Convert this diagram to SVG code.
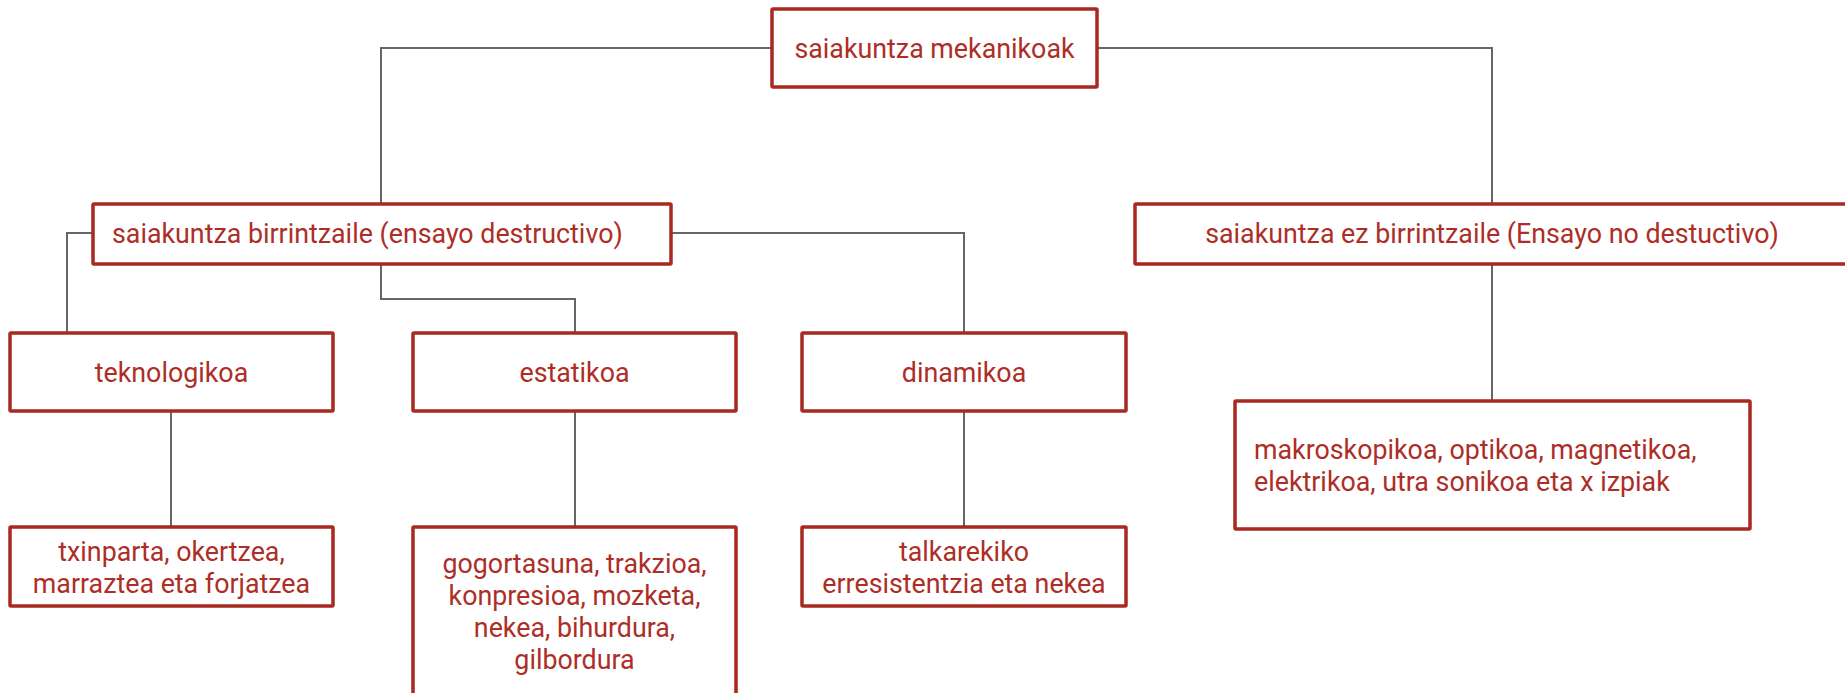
<svg xmlns="http://www.w3.org/2000/svg" width="1845" height="693" viewBox="0 0 1845 693">
<style>
.box{fill:#fff;stroke:#A8291F;stroke-width:3.5;}
.t{font-family:Roboto,"Liberation Sans",sans-serif;font-size:26.8px;fill:#AD2E26;}
.c{text-anchor:middle;}
.conn{fill:none;stroke:#666;stroke-width:2;}
</style>
<rect width="1845" height="693" fill="#fff"/>
<g id="connectors">
<path class="conn" d="M772 48 H381 V204"/>
<path class="conn" d="M1097 48 H1492 V204"/>
<path class="conn" d="M93 233 H67 V333"/>
<path class="conn" d="M381 264 V299 H575 V333"/>
<path class="conn" d="M671 233 H964 V333"/>
<path class="conn" d="M171 411 V527"/>
<path class="conn" d="M575 411 V527"/>
<path class="conn" d="M964 411 V527"/>
<path class="conn" d="M1492 264 V401"/>
</g>
<g id="n-root">
<rect class="box" x="772" y="9" width="325" height="78" rx="1"/>
<text class="t c" x="934.5" y="58">saiakuntza mekanikoak</text>
</g>
<g id="n-destructivo">
<rect class="box" x="93" y="204" width="578" height="60" rx="1"/>
<text class="t" x="112" y="243">saiakuntza birrintzaile (ensayo destructivo)</text>
</g>
<g id="n-nodestructivo">
<rect class="box" x="1135" y="204" width="714" height="60" rx="1"/>
<text class="t c" x="1492" y="243">saiakuntza ez birrintzaile (Ensayo no destuctivo)</text>
</g>
<g id="n-teknologikoa">
<rect class="box" x="10" y="333" width="323" height="78" rx="1"/>
<text class="t c" x="171.5" y="382">teknologikoa</text>
</g>
<g id="n-estatikoa">
<rect class="box" x="413" y="333" width="323" height="78" rx="1"/>
<text class="t c" x="574.5" y="382">estatikoa</text>
</g>
<g id="n-dinamikoa">
<rect class="box" x="802" y="333" width="324" height="78" rx="1"/>
<text class="t c" x="964" y="382">dinamikoa</text>
</g>
<g id="n-txinparta">
<rect class="box" x="10" y="527" width="323" height="79" rx="1"/>
<text class="t c" x="171.5" y="561">txinparta, okertzea,</text>
<text class="t c" x="171.5" y="593">marraztea eta forjatzea</text>
</g>
<g id="n-gogortasuna">
<rect class="box" x="413" y="527" width="323" height="180" rx="1"/>
<text class="t c" x="574.5" y="573">gogortasuna, trakzioa,</text>
<text class="t c" x="574.5" y="605">konpresioa, mozketa,</text>
<text class="t c" x="574.5" y="637">nekea, bihurdura,</text>
<text class="t c" x="574.5" y="669">gilbordura</text>
</g>
<g id="n-talkarekiko">
<rect class="box" x="802" y="527" width="324" height="79" rx="1"/>
<text class="t c" x="964" y="561">talkarekiko</text>
<text class="t c" x="964" y="593">erresistentzia eta nekea</text>
</g>
<g id="n-makroskopikoa">
<rect class="box" x="1235" y="401" width="515" height="128" rx="1"/>
<text class="t" x="1254" y="459">makroskopikoa, optikoa, magnetikoa,</text>
<text class="t" x="1254" y="491">elektrikoa, utra sonikoa eta x izpiak</text>
</g>
</svg>
